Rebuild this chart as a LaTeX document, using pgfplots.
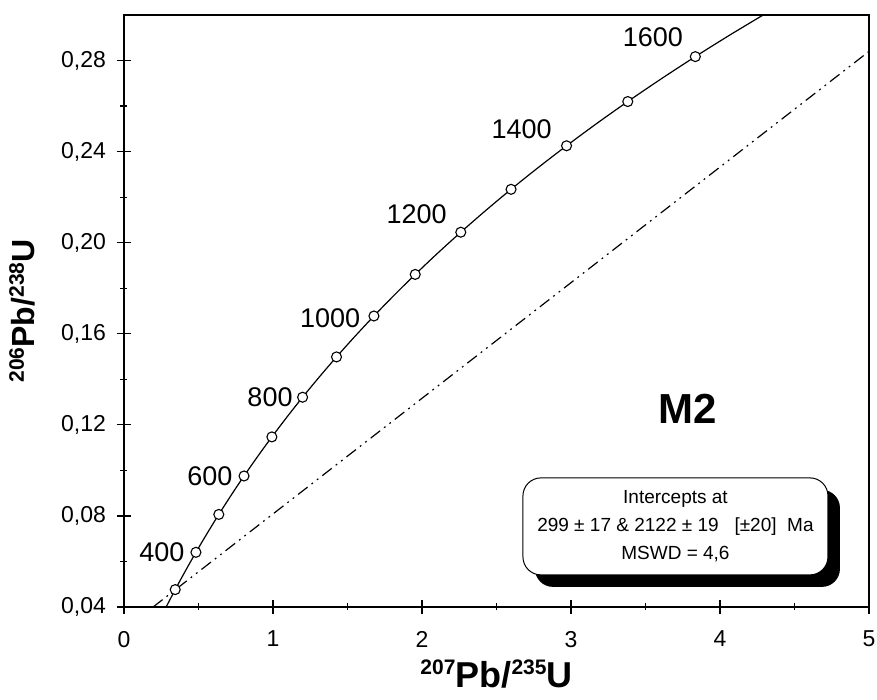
\documentclass[border=0pt]{standalone}
\usepackage{fontspec}
\setmainfont{Liberation Sans}
\usepackage{pgfplots}
\pgfplotsset{compat=1.18}
\usetikzlibrary{shadows}
\newcommand{\sups}[2]{\raisebox{#2}{\fontsize{10.5}{12}\selectfont\bfseries #1}}

\begin{document}
\begin{tikzpicture}
	\begin{axis}[
		scale only axis,
		width=372.5pt, height=296pt,
		xmin=0, xmax=5, ymin=0.04, ymax=0.30,
		xtick={0,1,2,3,4,5},
		ytick={0.04,0.08,0.12,0.16,0.20,0.24,0.28},
		minor x tick num=1, minor y tick num=1,
		tick pos=left,
		tick align=center,
		major tick length=7pt, minor tick length=3.5pt,
		every tick/.style={black, line width=0.6pt},
		axis line style={line width=0.65pt},
		tick label style={font=\fontsize{11.5}{13}\selectfont},
		/pgf/number format/assume math mode=true,
		y tick label style={/pgf/number format/.cd, fixed, fixed zerofill, precision=2, use comma, /tikz/.cd, xshift=-2pt},
		x tick label style={yshift=-5pt},
		xlabel={\fontsize{18}{20}\selectfont\bfseries\sups{207}{6.5pt}Pb/\sups{235}{6.5pt}U},
		ylabel={\fontsize{16}{18}\selectfont\bfseries\sups{206}{5.5pt}Pb/\sups{238}{5.5pt}U},
		xlabel style={yshift=0.5pt},
		ylabel style={yshift=6pt},
	]
		% discordia 299 / 2122 Ma
		\addplot[black, line width=0.6pt, dash pattern=on 6pt off 2.5pt on 0.9pt off 2.5pt on 0.9pt off 2.5pt]
			coordinates {(0.1952,0.04) (5,0.28401)};
		% concordia
		\addplot[black, line width=0.6pt, smooth] coordinates {
			(0.2792,0.03954) (0.3437,0.04764) (0.4116,0.05579) (0.4828,0.06402)
			(0.5577,0.07230) (0.6363,0.08065) (0.7189,0.08906) (0.8056,0.09754)
			(0.8968,0.10609) (0.9925,0.11470) (1.0931,0.12338) (1.1987,0.13213)
			(1.3097,0.14094) (1.4263,0.14983) (1.5488,0.15878) (1.6774,0.16780)
			(1.8126,0.17690) (1.9545,0.18606) (2.1036,0.19530) (2.2603,0.20460)
			(2.4249,0.21398) (2.5977,0.22344) (2.7793,0.23296) (2.9701,0.24256)
			(3.1705,0.25224) (3.3810,0.26199) (3.6021,0.27181) (3.8344,0.28172)
			(4.0784,0.29170) (4.3348,0.30175)
		};
		% age marks, 300-1600 Ma
		\addplot[only marks, mark=*, mark size=2.5pt,
			mark options={fill=white, draw=black, line width=0.55pt}] coordinates {
			(0.3437,0.04764) (0.4828,0.06402) (0.6363,0.08065) (0.8056,0.09754)
			(0.9925,0.11470) (1.1987,0.13213) (1.4263,0.14983) (1.6774,0.16780)
			(1.9545,0.18606) (2.2603,0.20460) (2.5977,0.22344) (2.9701,0.24256)
			(3.3810,0.26199) (3.8344,0.28172)
		};
		\begin{scope}[every node/.style={font=\fontsize{13.5}{15}\selectfont}]
			\node at (axis cs:0.255,0.0642) {400};
			\node at (axis cs:0.577,0.0976) {600};
			\node at (axis cs:0.980,0.1323) {800};
			\node at (axis cs:1.383,0.1670) {1000};
			\node at (axis cs:1.964,0.2126) {1200};
			\node at (axis cs:2.669,0.2497) {1400};
			\node at (axis cs:3.550,0.2901) {1600};
		\end{scope}
		\node[font=\fontsize{21}{24}\selectfont\bfseries] at (axis cs:3.78,0.127) {M2};
		\node[draw=black, line width=0.5pt, fill=white, rounded corners=9pt,
			minimum width=152.5pt, minimum height=48.5pt, align=center,
			font=\fontsize{9.5}{14}\selectfont,
			drop shadow={shadow xshift=6pt, shadow yshift=-6pt, opacity=1, fill=black}]
			at (axis cs:3.701,0.0754)
			{Intercepts at\\299 ± 17 \& 2122 ± 19\ \ \ [±20]\ \ Ma\\MSWD = 4,6};
	\end{axis}
	\pgfresetboundingbox
	\path ([shift={(-62pt,-46.5pt)}]current axis.south west) rectangle ([shift={(4pt,7.5pt)}]current axis.north east);
\end{tikzpicture}
\end{document}
